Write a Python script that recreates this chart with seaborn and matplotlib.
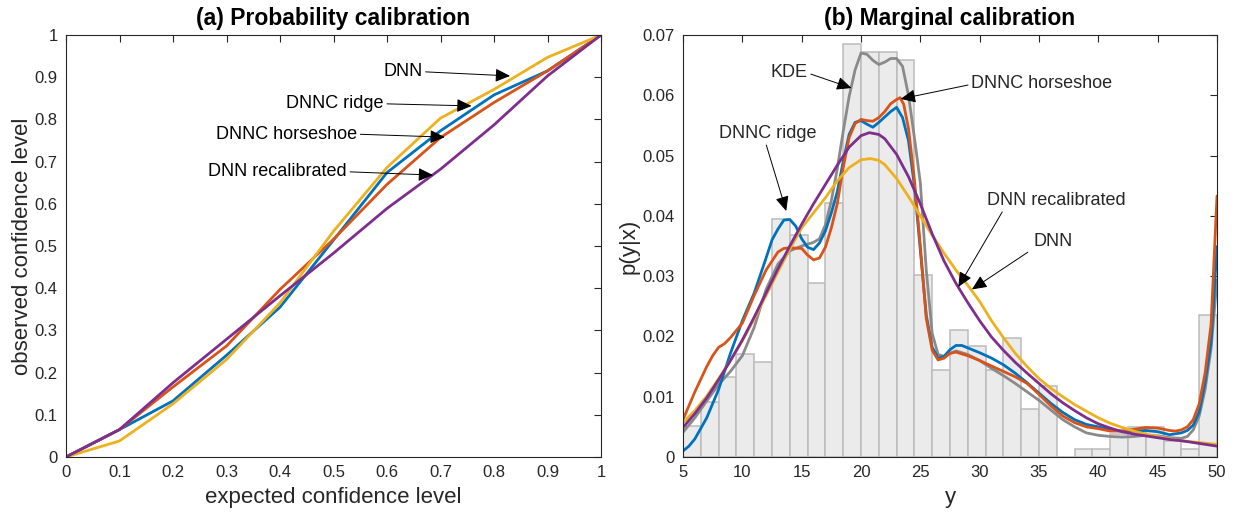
import numpy as np
import pandas as pd
import matplotlib
matplotlib.use("Agg")
import matplotlib.pyplot as plt
import seaborn as sns

sns.set_theme(style="white")
plt.rcParams["font.family"] = ["Liberation Sans", "DejaVu Sans"]

# ---------------- (a) probability calibration ----------------
expected_level = [0.0, 0.1, 0.2, 0.3, 0.4, 0.5, 0.6, 0.7, 0.8, 0.9, 1.0]
obs_dnnc_ridge = [0.0, 0.065, 0.133, 0.241, 0.355, 0.514, 0.674, 0.773, 0.858, 0.915, 1.0]
obs_dnnc_horseshoe = [0.0, 0.065, 0.166, 0.263, 0.397, 0.516, 0.646, 0.757, 0.840, 0.915, 1.0]
obs_dnn = [0.0, 0.038, 0.126, 0.231, 0.365, 0.535, 0.686, 0.803, 0.871, 0.947, 1.0]
obs_dnn_recal = [0.0, 0.065, 0.176, 0.279, 0.382, 0.483, 0.589, 0.682, 0.787, 0.903, 1.0]

# ---------------- (b) marginal calibration ----------------
hist_edges = list(np.arange(5.0, 50.01, 1.5))
hist_heights = [0.0052, 0.0092, 0.0132, 0.0171, 0.0158, 0.0395, 0.0368, 0.0289,
                0.0422, 0.0685, 0.0671, 0.0671, 0.0658, 0.0302, 0.0145, 0.0210,
                0.0184, 0.0145, 0.0197, 0.0079, 0.0118, 0.0, 0.0013, 0.0013,
                0.0038, 0.0050, 0.0050, 0.0027, 0.0013, 0.0236]

kde_y = [5, 6, 7, 8, 9, 10, 11, 12, 13, 14, 15, 16, 16.5, 17, 17.5, 18, 18.5, 19,
         19.5, 20, 20.5, 21, 21.5, 22, 22.5, 23, 23.5, 24, 24.5, 25, 25.5, 26,
         26.5, 27, 28, 29, 30, 31, 32, 33, 34, 35, 36, 37, 38, 39, 40, 41, 42,
         43, 44, 45, 46, 47, 47.5, 48, 48.5, 49, 49.5, 50]
kde_p = [0.0041, 0.0065, 0.0093, 0.0120, 0.0142, 0.0168, 0.0215, 0.0278, 0.0320,
         0.0342, 0.0350, 0.0356, 0.0362, 0.0385, 0.0425, 0.0478, 0.0540, 0.0598,
         0.0642, 0.0670, 0.0668, 0.0658, 0.0651, 0.0655, 0.0661, 0.0661, 0.0648,
         0.0600, 0.0530, 0.0455, 0.0310, 0.0205, 0.0170, 0.0167, 0.0176, 0.0170,
         0.0160, 0.0147, 0.0135, 0.0122, 0.0108, 0.0094, 0.0078, 0.0062, 0.0050,
         0.0040, 0.0036, 0.0034, 0.0033, 0.0034, 0.0036, 0.0035, 0.0032, 0.0031,
         0.0034, 0.0045, 0.0068, 0.0112, 0.0180, 0.0294]

ridge_y = [5, 5.5, 6, 7, 8, 9, 10, 11, 12, 12.5, 13, 13.5, 14, 14.5, 15, 15.5, 16,
           16.5, 17, 17.5, 18, 18.5, 19, 19.5, 20, 20.5, 21, 21.5, 22, 22.5, 23,
           23.5, 24, 24.5, 25, 25.5, 26, 26.5, 27, 27.5, 28, 28.5, 29, 30, 31, 32,
           33, 34, 35, 36, 37, 38, 39, 40, 41, 42, 43, 44, 45, 46, 47, 47.5, 48,
           48.5, 49, 49.5, 50]
ridge_p = [0.0010, 0.0018, 0.0030, 0.0065, 0.0112, 0.0172, 0.0226, 0.0272, 0.0330,
           0.0360, 0.0378, 0.0393, 0.0394, 0.0383, 0.0362, 0.0348, 0.0344, 0.0355,
           0.0375, 0.0405, 0.0440, 0.0490, 0.0535, 0.0555, 0.0558, 0.0552, 0.0547,
           0.0555, 0.0564, 0.0573, 0.0580, 0.0563, 0.0525, 0.0450, 0.0343, 0.0235,
           0.0182, 0.0164, 0.0167, 0.0178, 0.0185, 0.0185, 0.0181, 0.0173, 0.0164,
           0.0153, 0.0139, 0.0123, 0.0106, 0.0089, 0.0074, 0.0062, 0.0054, 0.0050,
           0.0045, 0.0043, 0.0043, 0.0044, 0.0042, 0.0037, 0.0040, 0.0044, 0.0053,
           0.0075, 0.0125, 0.0190, 0.0349]

horseshoe_y = [5, 6, 7, 7.5, 8, 8.5, 9, 10, 11, 12, 13, 13.5, 14, 15, 15.5, 16, 16.5,
               17, 17.5, 18, 18.5, 19, 19.5, 20, 20.5, 21, 21.5, 22, 22.5, 23, 23.3,
               23.6, 24, 24.5, 25, 25.5, 26, 26.5, 27, 27.5, 28, 29, 30, 31, 32, 33,
               34, 35, 36, 37, 38, 39, 40, 41, 42, 43, 44, 45, 46, 46.5, 47, 47.5, 48,
               48.5, 49, 49.5, 50]
horseshoe_p = [0.0062, 0.0108, 0.0150, 0.0168, 0.0182, 0.0188, 0.0198, 0.0222,
               0.0268, 0.0310, 0.0340, 0.0346, 0.0347, 0.0346, 0.0335, 0.0327,
               0.0330, 0.0348, 0.0380, 0.0420, 0.0480, 0.0530, 0.0553, 0.0560,
               0.0558, 0.0557, 0.0563, 0.0573, 0.0586, 0.0593, 0.0596, 0.0585,
               0.0545, 0.0460, 0.0350, 0.0230, 0.0177, 0.0161, 0.0164, 0.0172,
               0.0174, 0.0168, 0.0160, 0.0151, 0.0142, 0.0133, 0.0122, 0.0104,
               0.0085, 0.0068, 0.0057, 0.0050, 0.0047, 0.0043, 0.0043, 0.0046,
               0.0049, 0.0048, 0.0044, 0.0043, 0.0045, 0.0050, 0.0062, 0.0088,
               0.0140, 0.0220, 0.0433]

dnn_y = [5, 6, 7, 8, 9, 10, 11, 12, 13, 14, 15, 16, 17, 18, 19, 20, 20.8, 21.5, 22,
         23, 24, 25, 26, 27, 28, 29, 30, 31, 32, 33, 34, 35, 36, 37, 38, 39, 40, 41,
         42, 43, 44, 45, 46, 47, 48, 49, 50]
dnn_p = [0.0057, 0.0077, 0.0101, 0.0130, 0.0160, 0.0193, 0.0229, 0.0268, 0.0307,
         0.0345, 0.0380, 0.0405, 0.0430, 0.0458, 0.0480, 0.0493, 0.0495, 0.0492,
         0.0485, 0.0462, 0.0432, 0.0400, 0.0368, 0.0338, 0.0310, 0.0285, 0.0258,
         0.0226, 0.0198, 0.0172, 0.0150, 0.0130, 0.0114, 0.0100, 0.0087, 0.0076,
         0.0065, 0.0056, 0.0049, 0.0043, 0.0038, 0.0034, 0.0030, 0.0027, 0.0025,
         0.0023, 0.0021]

recal_y = [5, 6, 7, 8, 9, 10, 11, 12, 13, 14, 15, 16, 17, 18, 19, 20, 20.7, 21.5,
           22, 23, 24, 25, 26, 27, 28, 29, 30, 31, 32, 33, 34, 35, 36, 37, 38, 39,
           40, 41, 42, 43, 44, 45, 46, 47, 48, 49, 50]
recal_p = [0.0049, 0.0072, 0.0098, 0.0128, 0.0160, 0.0194, 0.0232, 0.0272, 0.0312,
           0.0350, 0.0386, 0.0420, 0.0452, 0.0484, 0.0514, 0.0533, 0.0538, 0.0535,
           0.0528, 0.0502, 0.0465, 0.0420, 0.0370, 0.0325, 0.0288, 0.0256, 0.0226,
           0.0199, 0.0177, 0.0157, 0.0139, 0.0122, 0.0105, 0.0090, 0.0077, 0.0065,
           0.0055, 0.0048, 0.0042, 0.0038, 0.0035, 0.0032, 0.0029, 0.0027, 0.0024,
           0.0021, 0.0018]

# MATLAB-style colour order
C_BLUE = "#0072BD"
C_ORANGE = "#D95319"
C_YELLOW = "#EDB120"
C_PURPLE = "#7E2F8E"
C_GRAY = "#8a8a8a"
LW = 2.0
AX_COL = "#262626"

fig = plt.figure(figsize=(12.35, 5.16), dpi=100)
ax1 = fig.add_axes([66 / 1235, 59 / 516, 535 / 1235, 422 / 516])
ax2 = fig.add_axes([683 / 1235, 59 / 516, 534 / 1235, 422 / 516])


def style_axes(ax):
    for sp in ax.spines.values():
        sp.set_visible(True)
        sp.set_color(AX_COL)
        sp.set_linewidth(0.8)
    ax.tick_params(direction="in", top=True, right=True, length=5, width=0.8,
                   colors=AX_COL, labelsize=12, labelcolor=AX_COL, pad=6)
    ax.grid(False)


arrow_kw = dict(arrowstyle="-|>,head_length=0.75,head_width=0.34", color="black",
                lw=0.7, mutation_scale=12, shrinkA=0, shrinkB=0)

# ---- panel (a)
calib = pd.DataFrame({
    "expected": expected_level * 4,
    "observed": obs_dnnc_ridge + obs_dnnc_horseshoe + obs_dnn + obs_dnn_recal,
    "model": (["DNNC ridge"] * 11 + ["DNNC horseshoe"] * 11 + ["DNN"] * 11
              + ["DNN recalibrated"] * 11),
})
pal = {"DNNC ridge": C_BLUE, "DNNC horseshoe": C_ORANGE, "DNN": C_YELLOW,
       "DNN recalibrated": C_PURPLE}
sns.lineplot(data=calib, x="expected", y="observed", hue="model", palette=pal,
             estimator=None, sort=False, linewidth=LW, legend=False, ax=ax1)
ax1.set_xlim(0, 1)
ax1.set_ylim(0, 1)
ticks_a = np.round(np.arange(0, 1.01, 0.1), 1)
ax1.set_xticks(ticks_a)
ax1.set_yticks(ticks_a)
ax1.set_xticklabels(["0" if t == 0 else ("1" if t == 1 else f"{t:g}") for t in ticks_a])
ax1.set_yticklabels(["0" if t == 0 else ("1" if t == 1 else f"{t:g}") for t in ticks_a])
style_axes(ax1)
ax1.set_xlabel("expected confidence level", fontsize=16, color=AX_COL, labelpad=5)
ax1.set_ylabel("observed confidence level", fontsize=16, color=AX_COL, labelpad=1)
ax1.set_title("(a) Probability calibration", fontsize=16.5, fontweight="bold",
              color="black", pad=7)

ann_a = [("DNN", (0.666, 0.913), (0.830, 0.903)),
         ("DNNC ridge", (0.594, 0.837), (0.758, 0.832)),
         ("DNNC horseshoe", (0.544, 0.765), (0.708, 0.758)),
         ("DNN recalibrated", (0.525, 0.676), (0.686, 0.668))]
for label, txt, tip in ann_a:
    ax1.annotate(label, xy=tip, xytext=txt, ha="right", va="center", fontsize=13,
                 color="black", arrowprops=dict(arrow_kw, relpos=(1.0, 0.5)))

# ---- panel (b)
centers = [(hist_edges[i] + hist_edges[i + 1]) / 2 for i in range(len(hist_heights))]
sns.histplot(x=centers, weights=hist_heights, bins=hist_edges, stat="count",
             color="#ebebeb", edgecolor="#bcbcbc", linewidth=1.1, alpha=1.0, ax=ax2)
curves = [(kde_y, kde_p, C_GRAY), (ridge_y, ridge_p, C_BLUE),
          (horseshoe_y, horseshoe_p, C_ORANGE), (dnn_y, dnn_p, C_YELLOW),
          (recal_y, recal_p, C_PURPLE)]
for xs, ps, col in curves:
    sns.lineplot(x=xs, y=ps, color=col, linewidth=LW, estimator=None, sort=False,
                 ax=ax2)
ax2.set_xlim(5, 50)
ax2.set_ylim(0, 0.07)
ax2.set_xticks(np.arange(5, 51, 5))
ticks_b = np.round(np.arange(0, 0.0701, 0.01), 2)
ax2.set_yticks(ticks_b)
ax2.set_yticklabels(["0" if t == 0 else f"{t:g}" for t in ticks_b])
style_axes(ax2)
ax2.set_xlabel("y", fontsize=16, color=AX_COL, labelpad=5)
ax2.set_ylabel("p(y|x)", fontsize=16, color=AX_COL, labelpad=2)
ax2.set_title("(b) Marginal calibration", fontsize=16.5, fontweight="bold",
              color="black", pad=7)

ax2.annotate("KDE", xy=(19.2, 0.0612), xytext=(15.5, 0.0637), ha="right",
             va="center", fontsize=13, arrowprops=dict(arrow_kw, relpos=(1.0, 0.5)))
ax2.annotate("DNNC horseshoe", xy=(23.35, 0.0594), xytext=(29.3, 0.0620), ha="left",
             va="center", fontsize=13, arrowprops=dict(arrow_kw, relpos=(-0.02, 0.4)))
ax2.annotate("DNNC ridge", xy=(13.7, 0.0408), xytext=(12.1, 0.0537), ha="center",
             va="center", fontsize=13, arrowprops=dict(arrow_kw, relpos=(0.48, 0.0)))
ax2.annotate("DNN recalibrated", xy=(28.2, 0.0282), xytext=(30.62, 0.0426),
             ha="left", va="center", fontsize=13,
             arrowprops=dict(arrow_kw, relpos=(0.12, -0.05)))
ax2.annotate("DNN", xy=(29.35, 0.0278), xytext=(34.55, 0.0358), ha="left",
             va="center", fontsize=13,
             arrowprops=dict(arrow_kw, relpos=(-0.15, -0.15)))

fig.savefig("out.png", dpi=100, facecolor="white")
